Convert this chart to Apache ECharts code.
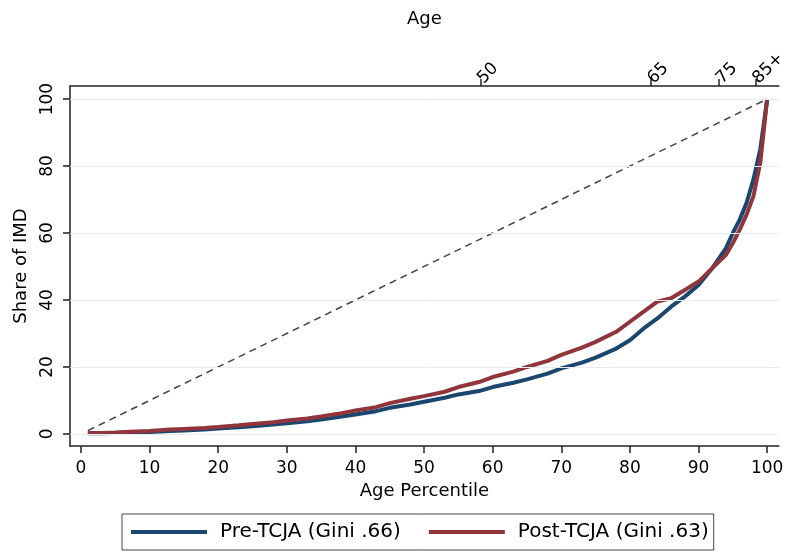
<!DOCTYPE html>
<html>
<head>
<meta charset="utf-8">
<script src="https://cdn.jsdelivr.net/npm/echarts@6/dist/echarts.min.js"></script>
<style>
  html, body { margin: 0; padding: 0; background: #fff; }
  #main { width: 789px; height: 551px; }
</style>
</head>
<body>
<div id="main"></div>
<script>
// age percentile (x) and cumulative share of IMD (y)
const pctl = [1, 3, 5, 8, 10, 13, 15, 18, 20, 23, 25, 28, 30, 33, 35, 38, 40, 43, 45, 48,
  50, 53, 55, 58, 60, 63, 65, 68, 70, 73, 75, 78, 80, 82, 84, 86, 88, 90, 92, 94,
  95, 96, 97, 98, 99, 100];
const preTcja = [0.2, 0.2, 0.3, 0.5, 0.6, 0.9, 1.0, 1.3, 1.6, 2.0, 2.3, 2.8, 3.2, 3.8, 4.3, 5.2, 5.8, 6.8, 7.8, 8.8,
  9.6, 10.8, 11.8, 12.8, 14.0, 15.3, 16.3, 18.0, 19.6, 21.3, 22.8, 25.5, 28.0, 31.5, 34.5, 38.0, 41.0, 44.5, 49.5, 55.5,
  60, 64, 69, 76, 85, 100];
const postTcja = [0.3, 0.3, 0.4, 0.7, 0.9, 1.3, 1.5, 1.8, 2.1, 2.6, 3.0, 3.5, 4.0, 4.6, 5.2, 6.2, 7.0, 8.0, 9.2, 10.5,
  11.3, 12.6, 14.0, 15.5, 17.0, 18.6, 20.0, 21.8, 23.6, 25.8, 27.5, 30.5, 33.5, 36.5, 39.5, 40.5, 43.0, 45.5, 49.5, 53.5,
  57, 61, 65.5, 71, 81, 100];
const equality = [[1, 1], [100, 100]];

const xTicks = [0, 10, 20, 30, 40, 50, 60, 70, 80, 90, 100];
const yTicks = [0, 20, 40, 60, 80, 100];
// top axis: age at given percentile
const ageTickPos = [58.2, 83, 93, 98.3];
const ageTickLabels = ['50', '65', '75', '85+'];

const seriesNames = ['Pre-TCJA (Gini .66)', 'Post-TCJA (Gini .63)'];

const xMin = -1.6, xMax = 101.7;
const yMin = -3.6, yMax = 103.9;

const font = 'DejaVu Sans';
const axisColor = '#222';
const chart = echarts.init(document.getElementById('main'));

const toPairs = (ys) => pctl.map((x, i) => [x, ys[i]]);

const option = {
  animation: false,
  textStyle: { fontFamily: font },
  grid: { left: 70, right: 9, top: 86, bottom: 105 },
  xAxis: [
    {
      type: 'value',
      position: 'bottom',
      min: xMin,
      max: xMax,
      name: 'Age Percentile',
      nameLocation: 'middle',
      nameGap: 36,
      nameTextStyle: { fontSize: 18, color: '#000', fontFamily: font },
      axisLine: { show: true, onZero: false, lineStyle: { color: axisColor, width: 1.5 } },
      axisTick: { show: true, length: 7, customValues: xTicks, lineStyle: { color: axisColor, width: 1.5 } },
      axisLabel: { customValues: xTicks, fontSize: 17, color: '#000', margin: 14, fontFamily: font },
      splitLine: { show: false }
    },
    {
      type: 'value',
      position: 'top',
      min: xMin,
      max: xMax,
      name: 'Age',
      nameLocation: 'middle',
      nameGap: 58,
      nameTextStyle: { fontSize: 18, color: '#000', fontFamily: font },
      axisLine: { show: true, onZero: false, lineStyle: { color: axisColor, width: 1.5 } },
      axisTick: { show: true, length: 7, customValues: ageTickPos, lineStyle: { color: axisColor, width: 1.5 } },
      axisLabel: {
        customValues: ageTickPos,
        rotate: -45,
        fontSize: 17,
        color: '#000',
        margin: 5,
        fontFamily: font,
        formatter: (v) => {
          let best = 0;
          ageTickPos.forEach((p, i) => { if (Math.abs(p - v) < Math.abs(ageTickPos[best] - v)) best = i; });
          return ageTickLabels[best];
        }
      },
      splitLine: { show: false }
    }
  ],
  yAxis: {
    type: 'value',
    min: yMin,
    max: yMax,
    name: 'Share of IMD',
    nameLocation: 'middle',
    nameGap: 40,
    nameTextStyle: { fontSize: 18, color: '#000', fontFamily: font },
    axisLine: { show: true, onZero: false, lineStyle: { color: axisColor, width: 1.5 } },
    axisTick: { show: true, length: 7, customValues: yTicks, lineStyle: { color: axisColor, width: 1.5 } },
    axisLabel: { customValues: yTicks, rotate: 90, fontSize: 17, color: '#000', margin: 14, fontFamily: font },
    splitLine: { show: false }
  },
  legend: {
    data: seriesNames,
    left: 122,
    top: 514,
    orient: 'horizontal',
    borderColor: '#444',
    borderWidth: 1,
    padding: [8, 5, 8, 9],
    itemGap: 28,
    itemWidth: 76,
    itemHeight: 4,
    icon: 'rect',
    textStyle: { fontSize: 20, color: '#000', fontFamily: font, padding: [0, 0, 0, 8] }
  },
  series: [
    {
      name: 'grid',
      type: 'line',
      data: [],
      silent: true,
      z: 1,
      markLine: {
        silent: true,
        symbol: 'none',
        label: { show: false },
        lineStyle: { color: '#e6ecef', width: 1, type: 'solid' },
        data: yTicks.map((v) => ({ yAxis: v }))
      }
    },
    {
      name: 'equality',
      type: 'line',
      data: equality,
      showSymbol: false,
      z: 2,
      lineStyle: { color: '#444', width: 1.5, type: [7, 5] }
    },
    {
      name: seriesNames[0],
      type: 'line',
      data: toPairs(preTcja),
      showSymbol: false,
      z: 3,
      color: '#1a476f',
      lineStyle: { color: '#1a476f', width: 4 }
    },
    {
      name: seriesNames[1],
      type: 'line',
      data: toPairs(postTcja),
      showSymbol: false,
      z: 4,
      color: '#90353b',
      lineStyle: { color: '#90353b', width: 4 }
    }
  ]
};

chart.setOption(option);
</script>
</body>
</html>
